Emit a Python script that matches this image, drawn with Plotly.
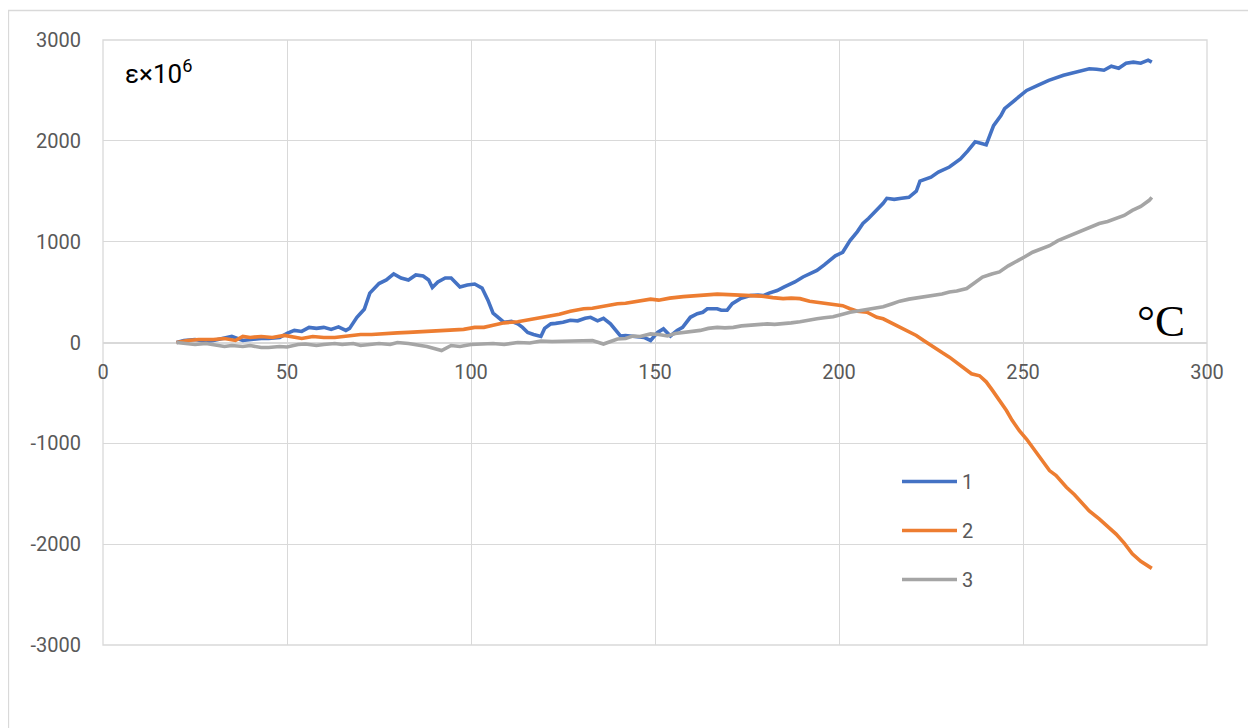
import plotly.graph_objects as go

# ---- data (temperature °C, strain ε×10^6) ----
t1 = [20, 22, 25, 28, 30, 33, 35, 38, 40, 43, 45, 48, 50, 52, 54, 56, 58, 60, 62, 64, 66, 67, 69, 71,
      72.5, 74, 75, 77, 79, 81, 83, 85, 87, 88.5, 89.5, 91, 93, 94.6, 97, 99, 101, 103, 104.6, 106,
      107.5, 109, 111, 112.7, 114, 115.4, 117, 119, 120, 121.7, 123, 125, 127, 129, 131, 132.5, 134.4,
      136, 137.9, 139, 140.6, 142, 144, 146, 147, 148.8, 150.7, 152.3, 154.2, 156, 157.5, 159.6, 161.5,
      163, 164.2, 166.9, 168, 169.6, 171, 173.2, 175.9, 178, 179.4, 181, 183.2, 185, 186.7, 188, 190.2,
      192, 194, 196, 197.6, 199, 201, 203, 205, 206.5, 208, 210.3, 212, 213, 215, 217, 219, 221, 222,
      225, 227, 230, 233, 235, 237, 239, 240, 242, 244, 245, 247, 249, 251, 254, 257, 261, 265, 268,
      270, 272, 274, 276, 278, 280, 282, 284, 285]
v1 = [0, 20, 30, 10, 20, 40, 60, 20, 30, 40, 40, 50, 90, 120, 110, 150, 140, 150, 130, 155, 120, 140, 250, 330,
      490, 550, 585, 620, 680, 640, 620, 670, 660, 620, 545, 600, 640, 640, 550, 570, 580, 540, 420, 290,
      240, 200, 210, 185, 150, 100, 80, 60, 140, 185, 190, 200, 220, 215, 240, 250, 215,
      240, 185, 140, 65, 70, 65, 60, 50, 20, 100, 135, 65, 120, 150, 250, 285,
      300, 335, 335, 320, 320, 385, 435, 465, 470, 465, 490, 515, 550, 580, 600, 650,
      680, 715, 770, 815, 860, 895, 1010, 1100, 1180, 1230, 1310, 1380, 1430, 1420, 1430, 1440, 1500, 1600,
      1640, 1690, 1740, 1820, 1900, 1990, 1970, 1960, 2150, 2250, 2320, 2380, 2450, 2500, 2550, 2600, 2650, 2690, 2715,
      2710, 2700, 2740, 2720, 2770, 2780, 2770, 2800, 2780]

t2 = [20, 23, 26, 30, 33, 36, 38, 40, 43, 46, 49.3, 52, 54, 57, 60, 63, 65, 67.5, 70, 73, 76.4, 80, 83,
      85.6, 88, 91, 94.6, 98, 101, 103.5, 106, 109, 112.7, 115, 117, 119, 121.7, 124, 127, 130.6, 133,
      136, 139.8, 142, 145, 148.8, 151, 154, 157.7, 160, 163, 166.9, 170, 173, 175.9, 179, 182, 184.8,
      187, 189.4, 192, 194, 196, 198.4, 201, 203, 205, 207.6, 210.3, 212, 214, 216.5, 219, 221, 223,
      225.5, 228, 230, 232, 234.7, 236, 238.2, 240, 241.7, 243.5, 245.5, 247, 249, 251, 252.6, 255,
      257.2, 259, 261.8, 264, 266.1, 268, 270.7, 273, 275.3, 277.5, 279.7, 282, 284.3, 285]
v2 = [0, 20, 30, 30, 40, 20, 60, 50, 60, 50, 70, 50, 40, 60, 50, 50, 60, 70, 80, 80, 90, 95, 100,
      105, 110, 120, 120, 130, 150, 150, 170, 195, 205, 220, 235, 245, 260, 280, 310, 335, 340,
      360, 385, 390, 410, 430, 420, 440, 455, 460, 470, 480, 475, 470, 465, 460, 445, 435,
      440, 435, 410, 400, 390, 385, 365, 335, 310, 300, 250, 235, 200, 150, 110, 70, 20,
      -45, -100, -145, -200, -280, -310, -330, -390, -475, -570, -675, -770, -875, -960, -1040, -1150,
      -1270, -1320, -1435, -1510, -1600, -1670, -1750, -1820, -1900, -1990, -2095, -2170, -2230, -2240]

t3 = [20, 22, 25, 28, 30, 33, 35, 38, 40, 43, 45, 48, 50, 53, 55, 58, 60, 63, 65, 68, 70, 73, 75, 78,
      80, 83, 85, 88, 90, 92, 94.6, 97, 100, 103.5, 106, 109, 112.7, 116, 119, 122, 126, 130.6, 133,
      136, 139.8, 142, 144, 146, 148.8, 151, 153.4, 155.5, 157.7, 160, 162.3, 164.5, 166.9, 169, 171.3,
      173.5, 175.9, 178, 180.5, 182.5, 184.8, 187, 189.4, 192, 194, 196, 198.4, 201, 203, 205.5, 207.6,
      210, 212, 214.5, 216.5, 219, 221, 223, 225.5, 228, 230, 232, 234.7, 237, 239, 241.5, 243.6, 246,
      248.2, 250.5, 252.6, 255, 257.2, 259.5, 261.8, 264, 266.1, 268.5, 270.7, 273, 275.3, 277.5, 279.7,
      282, 284.3, 285]
v3 = [0, -10, -20, -10, -20, -40, -30, -40, -30, -50, -50, -40, -45, -20, -15, -30, -20, -10, -20, -10, -30, -15, -10, -20,
      0, -10, -20, -40, -60, -80, -30, -40, -20, -15, -10, -20, 0, -5, 15, 10, 15, 15, 20,
      -15, 35, 40, 65, 60, 85, 80, 65, 90, 100, 110, 120, 140, 150, 145, 150,
      165, 170, 175, 185, 180, 185, 195, 205, 225, 235, 245, 255, 280, 300, 315, 330,
      345, 355, 385, 410, 430, 440, 450, 466, 480, 500, 510, 535, 590, 648, 680, 700, 760,
      800, 850, 895, 930, 960, 1010, 1045, 1080, 1110, 1150, 1180, 1200, 1230, 1260, 1310,
      1350, 1410, 1440]

names = ["1", "2", "3"]
colors = ["#4472C4", "#ED7D31", "#A5A5A5"]

x_ticks = [0, 50, 100, 150, 200, 250, 300]
y_ticks = [-3000, -2000, -1000, 0, 1000, 2000, 3000]
y_ticktext = ["-3000", "-2000", "-1000", "0", "1000", "2000", "3000"]
x_range = [0, 300]
y_range = [-3000, 3000]

# the page adds an 8px body margin; figure coords = screen coords - 8
OFF = 8
W, H = 1248, 720
ML, MT = 103 - OFF, 40 - OFF
PW, PH = 1104, 605
MR, MB = W - ML - PW, H - MT - PH
GRID = "#D9D9D9"
LABEL = "#595959"
FONT = "Roboto"

def px2x(sx):
    return (sx - OFF - ML) / PW
def py2y(sy):
    return (MT + PH - (sy - OFF)) / PH

fig = go.Figure()
for t, v, n, c in zip([t1, t2, t3], [v1, v2, v3], names, colors):
    fig.add_trace(go.Scatter(x=t, y=v, name=n, mode="lines", legendgroup=n,
                             line=dict(color=c, width=3.6)))

zero_pos = (0 - y_range[0]) / (y_range[1] - y_range[0])

fig.update_layout(
    width=W, height=H,
    margin=dict(l=ML, r=MR, t=MT, b=MB),
    paper_bgcolor="white", plot_bgcolor="white",
    font=dict(family=FONT, size=20, color=LABEL),
    showlegend=True,
    legend=dict(x=px2x(897), y=py2y(462),
                xanchor="left", yanchor="top", bgcolor="rgba(0,0,0,0)",
                font=dict(family=FONT, size=20, color=LABEL),
                itemwidth=55, tracegroupgap=20),
    xaxis=dict(range=x_range, tickvals=x_ticks, showgrid=True, gridcolor=GRID, gridwidth=1.3,
               zeroline=False, showline=False, anchor="free", position=zero_pos,
               ticks="", ticklabelstandoff=15,
               tickfont=dict(family=FONT, size=20, color=LABEL)),
    yaxis=dict(range=y_range, tickvals=y_ticks, ticktext=y_ticktext, showgrid=True,
               gridcolor=GRID, gridwidth=1.3, zeroline=True, zerolinecolor=GRID, zerolinewidth=1.5,
               showline=False, ticks="", ticklabelstandoff=21,
               tickfont=dict(family=FONT, size=20, color=LABEL)),
)

# plot-area border
fig.add_shape(type="rect", xref="paper", yref="paper", x0=0, y0=0, x1=1, y1=1,
              line=dict(color=GRID, width=1.3), layer="below")
# chart-area border
fig.add_shape(type="rect", xref="paper", yref="paper", x0=px2x(8.5), y0=py2y(745), x1=px2x(1253.5),
              y1=py2y(10.5), line=dict(color=GRID, width=1.3), layer="below")

fig.add_annotation(xref="paper", yref="paper", x=px2x(123), y=py2y(53), xanchor="left", yanchor="top",
                   text="ε×10<sup>6</sup>", showarrow=False,
                   font=dict(family=FONT, size=26, color="#000000"))
fig.add_annotation(xref="paper", yref="paper", x=px2x(1187), y=py2y(348), xanchor="right", yanchor="bottom",
                   text="°C", showarrow=False,
                   font=dict(family="Liberation Serif", size=45, color="#000000"))

fig.write_html("out.html")
